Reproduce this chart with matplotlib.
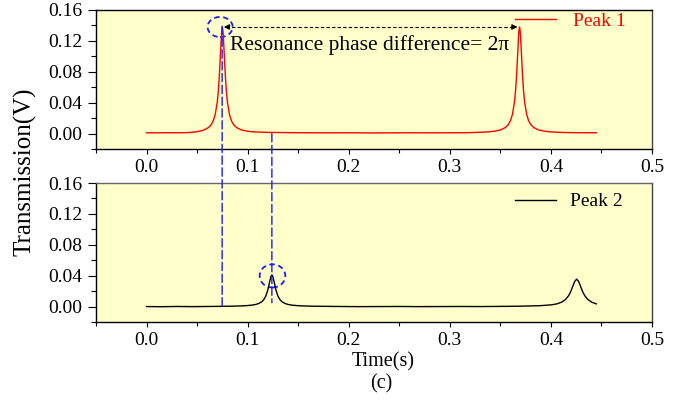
import matplotlib
matplotlib.use("Agg")
import matplotlib.pyplot as plt
from matplotlib.patches import Ellipse, ConnectionPatch

plt.rcParams["font.family"] = ["Liberation Serif", "DejaVu Serif"]
plt.rcParams["mathtext.fontset"] = "stix"

# Peak 1 (red) trace
peak1_t = [0.000, 0.010, 0.020, 0.030, 0.040, 0.045, 0.050, 0.056, 0.061, 0.064,
           0.066, 0.068, 0.070, 0.071, 0.072, 0.073, 0.074, 0.0745, 0.075, 0.0755,
           0.076, 0.077, 0.078, 0.079, 0.080, 0.082, 0.084, 0.086, 0.089, 0.094,
           0.100, 0.105, 0.120, 0.140, 0.160, 0.180, 0.200, 0.220, 0.240, 0.260,
           0.280, 0.300, 0.315, 0.325, 0.339, 0.344, 0.350, 0.355, 0.358, 0.360,
           0.362, 0.364, 0.365, 0.366, 0.367, 0.368, 0.3685, 0.369, 0.3695, 0.370,
           0.371, 0.372, 0.373, 0.374, 0.376, 0.378, 0.380, 0.383, 0.388, 0.394,
           0.399, 0.410, 0.420, 0.430, 0.445]
peak1_v = [0.0010, 0.0009, 0.0011, 0.0010, 0.0012, 0.0016, 0.0024, 0.0042, 0.0075, 0.0115,
           0.0165, 0.0250, 0.0410, 0.0545, 0.0740, 0.0995, 0.1260, 0.1340, 0.1380, 0.1340,
           0.1260, 0.0995, 0.0740, 0.0545, 0.0410, 0.0250, 0.0165, 0.0118, 0.0078, 0.0046,
           0.0030, 0.0022, 0.0015, 0.0012, 0.0010, 0.0009, 0.0010, 0.0008, 0.0009, 0.0010,
           0.0009, 0.0010, 0.0011, 0.0014, 0.0022, 0.0030, 0.0046, 0.0078, 0.0118, 0.0165,
           0.0250, 0.0410, 0.0545, 0.0740, 0.0995, 0.1260, 0.1340, 0.1380, 0.1340, 0.1260,
           0.0995, 0.0740, 0.0545, 0.0410, 0.0250, 0.0165, 0.0118, 0.0078, 0.0046, 0.0030,
           0.0022, 0.0015, 0.0012, 0.0011, 0.0010]

# Peak 2 (black) trace
peak2_t = [0.000, 0.015, 0.030, 0.045, 0.060, 0.074, 0.085, 0.093, 0.099, 0.104,
           0.108, 0.111, 0.114, 0.116, 0.118, 0.120, 0.122, 0.123, 0.124, 0.125,
           0.126, 0.128, 0.130, 0.132, 0.134, 0.137, 0.140, 0.144, 0.149, 0.155,
           0.163, 0.175, 0.190, 0.210, 0.230, 0.250, 0.270, 0.290, 0.310, 0.330,
           0.350, 0.365, 0.375, 0.390, 0.4005, 0.406, 0.4105, 0.4145, 0.4175, 0.4195,
           0.4215, 0.4235, 0.4255, 0.4275, 0.4295, 0.4315, 0.4335, 0.4365, 0.4405, 0.445]
peak2_v = [0.0000, -0.0002, 0.0001, -0.0001, 0.0001, 0.0003, 0.0005, 0.0008, 0.0012, 0.0018,
           0.0027, 0.0040, 0.0062, 0.0089, 0.0135, 0.0215, 0.0334, 0.0388, 0.0410, 0.0388,
           0.0334, 0.0215, 0.0135, 0.0089, 0.0062, 0.0040, 0.0027, 0.0018, 0.0012, 0.0008,
           0.0005, 0.0003, 0.0001, -0.0001, 0.0000, 0.0001, -0.0001, 0.0000, 0.0001, 0.0000,
           0.0002, 0.0004, 0.0006, 0.0012, 0.0022, 0.0035, 0.0056, 0.0092, 0.0140, 0.0190,
           0.0257, 0.0324, 0.0355, 0.0324, 0.0257, 0.0190, 0.0140, 0.0092, 0.0056, 0.0035]

x_ticks = [0.0, 0.1, 0.2, 0.3, 0.4, 0.5]
y_ticks = [0.00, 0.04, 0.08, 0.12, 0.16]

# marked resonances
res1 = (0.0748, 0.138)
res2 = (0.1240, 0.041)

BG = "#FFFFCC"
BLUE = "#1a1aff"

fig = plt.figure(figsize=(6.93, 4.03), dpi=100)
ax1 = fig.add_axes([0.1385, 0.6303, 0.8023, 0.3449])
ax2 = fig.add_axes([0.1385, 0.2010, 0.8023, 0.3449])

ax1.plot(peak1_t, peak1_v, color="red", lw=1.0, label="Peak 1")
ax2.plot(peak2_t, peak2_v, color="black", lw=1.0, label="Peak 2")

for ax in (ax1, ax2):
    ax.set_facecolor(BG)
    ax.set_xlim(-0.05, 0.5)
    ax.set_ylim(-0.02, 0.16)
    ax.set_xticks(x_ticks)
    ax.set_xticklabels([f"{v:.1f}" for v in x_ticks])
    ax.set_xticks([-0.05, 0.05, 0.15, 0.25, 0.35, 0.45], minor=True)
    ax.set_yticks(y_ticks)
    ax.set_yticklabels([f"{v:.2f}" for v in y_ticks])
    ax.set_yticks([-0.02, 0.02, 0.06, 0.10, 0.14], minor=True)
    ax.tick_params(axis="x", which="major", direction="out", length=3.3, width=0.8,
                   pad=4, labelsize=14)
    ax.tick_params(axis="x", which="minor", direction="out", length=2.6, width=0.8)
    ax.tick_params(axis="y", which="major", direction="out", length=5.8, width=0.8,
                   pad=4, labelsize=14)
    ax.tick_params(axis="y", which="minor", direction="out", length=3.6, width=0.8)
    for s in ax.spines.values():
        s.set_linewidth(1.0)
        s.set_color("black")
    ax.spines["right"].set_color("#444444")

ax2.spines["top"].set_color("#666666")

# legends
ax1.legend(loc="upper right", bbox_to_anchor=(0.952, 0.985), frameon=False,
           fontsize=14, handlelength=2.1, handletextpad=0.85, borderpad=0,
           borderaxespad=0, labelcolor="red")
ax2.legend(loc="upper right", bbox_to_anchor=(0.948, 0.93), frameon=False,
           fontsize=14, handlelength=2.1, handletextpad=0.75, borderpad=0,
           borderaxespad=0)

# dashed circles around the two resonances
ax1.add_patch(Ellipse((0.0728, 0.138), 0.0248, 0.026, fill=False, ec=BLUE,
                      lw=1.3, ls=(0, (3, 2))))
ax2.add_patch(Ellipse((0.1246, 0.0397), 0.0254, 0.030, fill=False, ec=BLUE,
                      lw=1.3, ls=(0, (3, 2))))

# dashed guide lines running through both panels
for xa, ya, yb in [(res1[0], 0.139, 0.0), (res2[0], 0.0, 0.005)]:
    con = ConnectionPatch(xyA=(xa, ya), coordsA=ax1.transData,
                          xyB=(xa, yb), coordsB=ax2.transData,
                          color=BLUE, lw=1.0, ls=(0, (6, 2.5)))
    fig.add_artist(con)

# phase difference arrow
arr_y = 0.138
ax1.plot([0.079, 0.364], [arr_y, arr_y], color="black", lw=0.8, ls=(0, (3, 2)))
ax1.annotate("", xy=(0.0765, arr_y), xytext=(0.081, arr_y),
             arrowprops=dict(arrowstyle="-|>", color="black", lw=0.8,
                             mutation_scale=8, shrinkA=0, shrinkB=0))
ax1.annotate("", xy=(0.367, arr_y), xytext=(0.362, arr_y),
             arrowprops=dict(arrowstyle="-|>", color="black", lw=0.8,
                             mutation_scale=8, shrinkA=0, shrinkB=0))
ax1.text(0.083, 0.1145, "Resonance phase difference= 2\u03c0", fontsize=15.5,
         ha="left", va="center")

fig.text(25 / 693, 1 - 172 / 403, "Transmission(V)", rotation=90, fontsize=18,
         ha="center", va="center")
fig.text(383 / 693, 1 - 362 / 403, "Time(s)", fontsize=14.5, ha="center", va="center")
fig.text(381 / 693, 1 - 384 / 403, "(c)", fontsize=14.5, ha="center", va="center")

fig.savefig("out.png", dpi=100, facecolor="white")
